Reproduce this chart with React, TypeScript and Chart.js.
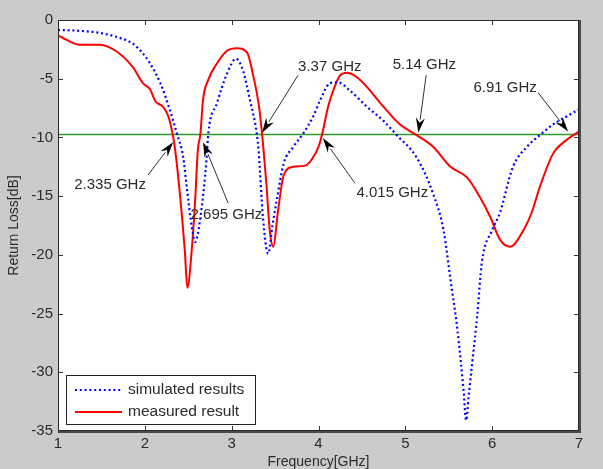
import React, { useEffect, useRef } from "react";
import Chart from "chart.js/auto";

// ---- data ----
const simFreq = [1.0, 1.2, 1.48, 1.7, 1.86, 1.96, 2.06, 2.18, 2.29, 2.37, 2.44, 2.49, 2.54, 2.58, 2.64, 2.71, 2.73, 2.83, 2.95, 3.05, 3.13, 3.21, 3.29, 3.31, 3.36, 3.42, 3.47, 3.52, 3.6, 3.71, 3.82, 3.94, 4.02, 4.13, 4.22, 4.36, 4.56, 4.75, 4.9, 5.13, 5.32, 5.44, 5.52, 5.6, 5.67, 5.7, 5.73, 5.77, 5.83, 5.88, 6.0, 6.09, 6.24, 6.4, 6.55, 6.7, 6.86, 7.0];
const simLoss = [-0.85, -0.9, -1.1, -1.5, -2.0, -2.7, -3.7, -5.4, -7.7, -9.7, -11.6, -14.7, -17.6, -18.9, -16.8, -11.9, -9.7, -7.1, -4.5, -3.3, -4.3, -6.8, -9.7, -11.1, -16.8, -19.9, -17.5, -15.3, -12.2, -10.8, -9.7, -8.2, -6.8, -5.4, -5.3, -6.0, -7.4, -8.6, -9.8, -11.7, -14.8, -17.9, -22.1, -26.4, -31.5, -34.1, -32.0, -29.2, -25.0, -20.7, -17.9, -16.4, -12.5, -10.8, -9.8, -8.9, -8.2, -7.6];

const measFreq = [1.0, 1.1, 1.25, 1.48, 1.68, 1.86, 1.98, 2.06, 2.12, 2.21, 2.27, 2.32, 2.35, 2.41, 2.46, 2.49, 2.54, 2.58, 2.61, 2.64, 2.67, 2.73, 2.83, 2.95, 3.06, 3.18, 3.25, 3.31, 3.35, 3.4, 3.44, 3.48, 3.53, 3.6, 3.71, 3.85, 3.92, 4.0, 4.04, 4.11, 4.17, 4.25, 4.33, 4.48, 4.75, 4.94, 5.13, 5.32, 5.52, 5.71, 5.86, 5.98, 6.09, 6.21, 6.36, 6.45, 6.55, 6.7, 6.86, 7.0];
const measLoss = [-1.3, -1.7, -2.1, -2.1, -2.7, -4.0, -5.4, -5.9, -6.9, -7.4, -8.2, -9.7, -11.1, -15.3, -19.6, -22.8, -19.6, -15.3, -11.1, -9.7, -6.8, -5.1, -3.7, -2.6, -2.4, -2.8, -4.8, -7.1, -9.7, -14.0, -18.0, -19.3, -16.5, -13.2, -12.5, -12.4, -11.9, -10.8, -9.8, -7.4, -6.0, -4.7, -4.5, -5.1, -7.4, -8.9, -9.8, -10.8, -12.5, -13.4, -15.1, -16.8, -18.7, -19.3, -17.9, -16.5, -14.2, -11.4, -10.2, -9.5];

const thresholdFreq = [1, 7];
const thresholdLoss = [-9.75, -9.75];

const xTickValues = [1, 2, 3, 4, 5, 6, 7];
const yTickValues = [0, -5, -10, -15, -20, -25, -30, -35];

const seriesNames = ["simulated results", "measured result"];

const annLabels = ["2.335 GHz", "2.695 GHz", "3.37 GHz", "4.015 GHz", "5.14 GHz", "6.91 GHz"];
const annTextF = [1.6, 2.94, 4.13, 4.85, 5.22, 6.15];
const annTextDb = [-14.05, -16.6, -4.0, -14.7, -3.8, -5.8];
const annTailF = [2.037, 2.96, 3.765, 4.42, 5.24, 6.53];
const annTailDb = [-13.2, -15.6, -4.7, -13.9, -4.7, -6.2];
const annHeadF = [2.325, 2.67, 3.35, 4.05, 5.15, 6.875];
const annHeadDb = [-10.4, -10.4, -9.6, -10.05, -9.6, -9.5];

const FONT = '"Liberation Sans", Arial, Helvetica, sans-serif';
const TEXT = "#2b2b2b";
const BLUE = "#0000ff";
const RED = "#ff0000";
const BLUE_DASH = [2, 2.8];

const toPts = (xs: number[], ys: number[]) => xs.map((x, i) => ({ x, y: ys[i] }));

const matlabPlugin = {
  id: "matlabLook",
  beforeDraw(chart: any) {
    const { ctx, chartArea: a, width, height } = chart;
    ctx.save();
    ctx.fillStyle = "#cbcbcb";
    ctx.fillRect(0, 0, width, height);
    ctx.fillStyle = "#ffffff";
    ctx.fillRect(a.left, a.top, a.right - a.left, a.bottom - a.top);
    ctx.restore();
  },
  afterDatasetsDraw(chart: any) {
    const { ctx, chartArea: a } = chart;
    const xs = chart.scales.x;
    const ys = chart.scales.y;
    ctx.save();
    // ticks on all four sides
    ctx.strokeStyle = "#333";
    ctx.lineWidth = 1;
    ctx.beginPath();
    xTickValues.forEach((v) => {
      const px = Math.round(xs.getPixelForValue(v)) + 0.5;
      ctx.moveTo(px, a.bottom);
      ctx.lineTo(px, a.bottom - 5);
      ctx.moveTo(px, a.top);
      ctx.lineTo(px, a.top + 5);
    });
    yTickValues.forEach((v) => {
      const py = Math.round(ys.getPixelForValue(v)) + 0.5;
      ctx.moveTo(a.left, py);
      ctx.lineTo(a.left + 5, py);
      ctx.moveTo(a.right, py);
      ctx.lineTo(a.right - 5, py);
    });
    ctx.stroke();
    // frame
    ctx.strokeStyle = "#2a2a2a";
    ctx.strokeRect(a.left + 0.5, a.top + 0.5, a.right - a.left - 1, a.bottom - a.top - 1);
    ctx.strokeStyle = "#4a4a4a";
    ctx.lineWidth = 2;
    ctx.beginPath();
    ctx.moveTo(a.left, a.bottom + 1);
    ctx.lineTo(a.right + 1, a.bottom + 1);
    ctx.lineTo(a.right + 1, a.top);
    ctx.stroke();

    // annotations
    ctx.font = `15px ${FONT}`;
    ctx.textAlign = "center";
    ctx.textBaseline = "middle";
    for (let i = 0; i < annLabels.length; i++) {
      const tx = xs.getPixelForValue(annTailF[i]);
      const ty = ys.getPixelForValue(annTailDb[i]);
      const hx = xs.getPixelForValue(annHeadF[i]);
      const hy = ys.getPixelForValue(annHeadDb[i]);
      const ang = Math.atan2(hy - ty, hx - tx);
      const L = 13;
      const W = 4.5;
      const bx = hx - L * Math.cos(ang);
      const by = hy - L * Math.sin(ang);
      ctx.strokeStyle = "#333";
      ctx.lineWidth = 1;
      ctx.beginPath();
      ctx.moveTo(tx, ty);
      ctx.lineTo(bx, by);
      ctx.stroke();
      ctx.fillStyle = "#000";
      ctx.beginPath();
      ctx.moveTo(hx, hy);
      ctx.lineTo(bx - W * Math.sin(ang) - 2 * Math.cos(ang), by + W * Math.cos(ang) - 2 * Math.sin(ang));
      ctx.lineTo(bx + 3 * Math.cos(ang), by + 3 * Math.sin(ang));
      ctx.lineTo(bx + W * Math.sin(ang) - 2 * Math.cos(ang), by - W * Math.cos(ang) - 2 * Math.sin(ang));
      ctx.closePath();
      ctx.fill();
      ctx.fillStyle = TEXT;
      ctx.fillText(annLabels[i], xs.getPixelForValue(annTextF[i]), ys.getPixelForValue(annTextDb[i]));
    }

    // legend box
    const lx = a.left + 8;
    const ly = a.bottom - 56;
    const lw = 189;
    const lh = 49;
    ctx.fillStyle = "#fff";
    ctx.fillRect(lx, ly, lw, lh);
    ctx.strokeStyle = "#222";
    ctx.lineWidth = 1;
    ctx.strokeRect(lx + 0.5, ly + 0.5, lw, lh);
    const rows = [ly + 15, ly + 37];
    const styles = [
      { color: BLUE, dash: BLUE_DASH, width: 2.2 },
      { color: RED, dash: [], width: 2 },
    ];
    ctx.font = `15.5px ${FONT}`;
    ctx.textAlign = "left";
    ctx.textBaseline = "middle";
    rows.forEach((ry, i) => {
      ctx.strokeStyle = styles[i].color;
      ctx.lineWidth = styles[i].width;
      ctx.setLineDash(styles[i].dash);
      ctx.beginPath();
      ctx.moveTo(lx + 9, ry);
      ctx.lineTo(lx + 56, ry);
      ctx.stroke();
      ctx.setLineDash([]);
      ctx.fillStyle = TEXT;
      ctx.fillText(seriesNames[i], lx + 62, ry);
    });
    ctx.restore();
  },
};

export default function App() {
  const ref = useRef<HTMLCanvasElement | null>(null);
  useEffect(() => {
    if (!ref.current) return;
    const chart = new Chart(ref.current, {
      type: "line",
      data: {
        datasets: [
          {
            label: seriesNames[0],
            data: toPts(simFreq, simLoss),
            borderColor: BLUE,
            borderWidth: 2.2,
            borderDash: BLUE_DASH,
            pointRadius: 0,
            cubicInterpolationMode: "monotone",
            fill: false,
          },
          {
            label: seriesNames[1],
            data: toPts(measFreq, measLoss),
            borderColor: RED,
            borderWidth: 2,
            pointRadius: 0,
            cubicInterpolationMode: "monotone",
            fill: false,
          },
          {
            label: "-10 dB",
            data: toPts(thresholdFreq, thresholdLoss),
            borderColor: "#2e9a2e",
            borderWidth: 1.6,
            pointRadius: 0,
            fill: false,
          },
        ],
      },
      plugins: [matlabPlugin],
      options: {
        responsive: false,
        animation: false,
        layout: { padding: { left: 0, top: 20, right: 24, bottom: 0 } },
        plugins: { legend: { display: false }, tooltip: { enabled: false } },
        scales: {
          x: {
            type: "linear",
            min: 1,
            max: 7,
            afterFit: (s: any) => {
              s.height = 38;
            },
            afterBuildTicks: (s: any) => {
              s.ticks = xTickValues.map((v) => ({ value: v }));
            },
            grid: { display: false, drawTicks: false },
            border: { display: false },
            ticks: { padding: 4, color: TEXT, font: { family: FONT, size: 15 }, maxRotation: 0 },
            title: {
              display: true,
              text: "Frequency[GHz]",
              color: TEXT,
              font: { family: FONT, size: 14 },
              padding: { top: 0, bottom: -2 },
            },
          },
          y: {
            type: "linear",
            min: -35,
            max: 0,
            afterFit: (s: any) => {
              s.width = 58;
            },
            afterBuildTicks: (s: any) => {
              s.ticks = yTickValues.map((v) => ({ value: v }));
            },
            grid: { display: false, drawTicks: false },
            border: { display: false },
            ticks: { padding: 5, color: TEXT, font: { family: FONT, size: 15 } },
            title: {
              display: true,
              text: "Return Loss[dB]",
              color: TEXT,
              font: { family: FONT, size: 14 },
              padding: { top: 6, bottom: 0 },
            },
          },
        },
      },
    } as any);
    return () => chart.destroy();
  }, []);
  return (
    <div style={{ position: "fixed", left: 0, top: 0, width: 603, height: 469, overflow: "hidden" }}>
      <canvas ref={ref} width={603} height={469} style={{ display: "block" }} />
    </div>
  );
}
